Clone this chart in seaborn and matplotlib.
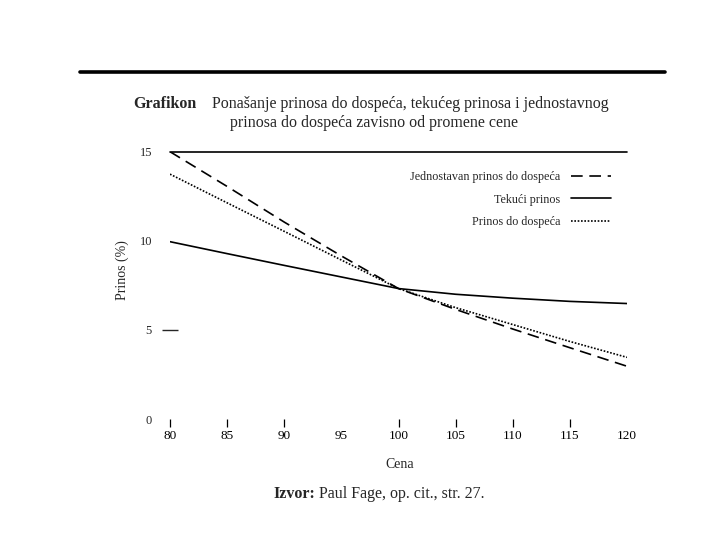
import numpy as np
import pandas as pd
import matplotlib
matplotlib.use("Agg")
import matplotlib.pyplot as plt
from matplotlib.lines import Line2D
import seaborn as sns

# Cena obveznice (x osa)
cena = [80, 85, 90, 95, 100, 105, 110, 115, 120]

# Prinosi u procentima, ocitano sa grafikona
jednostavan = [15.0, 13.05, 11.05, 9.15, 7.32, 6.15, 5.05, 4.0, 2.96]
tekuci = [9.95, 9.28, 8.62, 7.97, 7.32, 7.0, 6.78, 6.6, 6.48]
do_dospeca = [13.74, 12.13, 10.53, 8.92, 7.32, 6.25, 5.3, 4.35, 3.46]

serije = ["Jednostavan prinos do dospeća", "Tekući prinos", "Prinos do dospeća"]
x_ticks = [80, 85, 90, 95, 100, 105, 110, 115, 120]
y_ticks = [0, 5, 10, 15]

df = pd.DataFrame({
    "Cena": cena * 3,
    "Prinos": jednostavan + tekuci + do_dospeca,
    "Serija": [serije[0]] * len(cena) + [serije[1]] * len(cena) + [serije[2]] * len(cena),
})

sns.set_style("white")
plt.rcParams["font.family"] = ["Liberation Serif", "DejaVu Serif"]

W, H = 720, 540
fig = plt.figure(figsize=(7.2, 5.4), dpi=100)
ax = fig.add_axes([170 / W, 1 - 419 / H, (627 - 170) / W, (419 - 151.7) / H])

sns.lineplot(data=df, x="Cena", y="Prinos", hue="Serija", style="Serija",
             hue_order=serije, style_order=serije,
             palette=["black", "black", "black"],
             dashes={serije[0]: (7, 4), serije[1]: "", serije[2]: (1, 1)},
             linewidth=1.2, ax=ax)
for line in ax.get_lines():
    if line.get_label() == serije[2]:
        line.set_linewidth(0.9)

ax.set_xlim(80, 120)
ax.set_ylim(0, 15)
ax.axhline(15, color="black", lw=1.2, clip_on=False)
for s in ax.spines.values():
    s.set_visible(False)

ax.set_xticks(x_ticks)
ax.set_xticklabels([str(t) for t in x_ticks], fontsize=9.5)
ax.tick_params(axis="x", bottom=True, direction="out", length=6, width=0.9, pad=2,
               colors="black")
for t, v in zip(ax.xaxis.get_major_ticks(), x_ticks):
    if v in (95, 120):
        t.tick1line.set_visible(False)
    if v == 100:
        t.tick1line.set_color("#bbbbbb")

ax.set_yticks(y_ticks)
ax.set_yticklabels([str(t) for t in y_ticks], fontsize=9)
ax.tick_params(axis="y", length=0, pad=13)
for t, v in zip(ax.yaxis.get_major_ticks(), y_ticks):
    if v == 5:
        t.tick1line.set_marker("_")
        t.tick1line.set_markersize(12)
        t.tick1line.set_markeredgewidth(1.0)
        t.tick1line.set_color("black")
        t.tick1line.set_visible(True)

ax.set_xlabel("Cena", fontsize=10)
ax.xaxis.set_label_coords((400 - 170) / 457, (419 - 458) / 267.3)
ax.set_ylabel("Prinos (%)", fontsize=10)
ax.yaxis.set_label_coords((129 - 170) / 457, (419 - 270) / 267.3)

sns.move_legend(ax, "upper right", bbox_to_anchor=((616 - 170) / 457, 0.945),
                title=None, frameon=False, markerfirst=False, fontsize=8.7,
                handlelength=3.3, handletextpad=0.9, labelspacing=0.85,
                borderaxespad=0)

# gornja linija i naslov
fig.add_artist(Line2D([80 / W, 665 / W], [1 - 72 / H, 1 - 72 / H],
                      transform=fig.transFigure, color="black", lw=2.6))
fig.text(133 / W, 1 - 104 / H, "Grafikon", fontsize=11.5, weight="bold", va="center")
fig.text(212 / W, 1 - 104 / H, "Ponašanje prinosa do dospeća, tekućeg prinosa i jednostavnog",
         fontsize=11.5, va="center")
fig.text(230 / W, 1 - 123 / H, "prinosa do dospeća zavisno od promene cene",
         fontsize=11.5, va="center")

fig.text(315 / W, 1 - 494 / H, "Izvor:", fontsize=11.5, weight="bold", va="center", ha="right")
fig.text(319 / W, 1 - 494 / H, "Paul Fage, op. cit., str. 27.", fontsize=11.5, va="center")

fig.savefig("out.png", dpi=100)
